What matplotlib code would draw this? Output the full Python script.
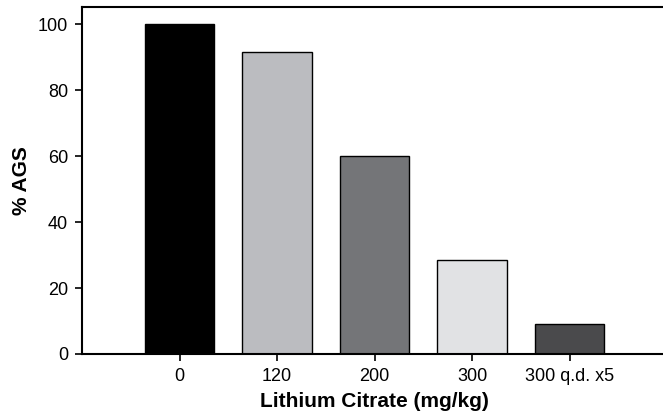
import matplotlib
matplotlib.use("Agg")
import matplotlib.pyplot as plt

categories = ["0", "120", "200", "300", "300 q.d. x5"]
values = [100, 91.5, 60, 28.5, 9]
colors = ["#000000", "#bbbcc0", "#747578", "#e1e2e4", "#4a4a4c"]
yticks = [0, 20, 40, 60, 80, 100]

plt.rcParams['font.family'] = ['Liberation Sans', 'DejaVu Sans']
W, H = 663, 417
fig = plt.figure(figsize=(W/100, H/100), dpi=100)
left, right, bottom, top = 82, 667, 354, 7
ax = fig.add_axes([left/W, 1-bottom/H, (right-left)/W, (bottom-top)/H])

x = list(range(len(categories)))
ax.bar(x, values, width=0.71, color=colors, edgecolor="black", linewidth=1.0, zorder=2)
ax.set_xlim(-1.0, 5.0)
ax.set_ylim(0, 105.2)
ax.set_xticks(x)
ax.set_xticklabels(categories, fontsize=13)
ax.set_yticks(yticks)
ax.set_yticklabels([str(t) for t in yticks], fontsize=13)
for s in ["left", "bottom", "top"]:
    ax.spines[s].set_linewidth(1.5)
ax.spines["right"].set_visible(False)
ax.tick_params(direction="out", length=5, width=1.2, pad=5)
ax.set_xlabel("Lithium Citrate (mg/kg)", fontsize=15, fontweight="bold", labelpad=5)
ax.set_ylabel("% AGS", fontsize=15, fontweight="bold", labelpad=5)

fig.savefig("out.png", dpi=100)
